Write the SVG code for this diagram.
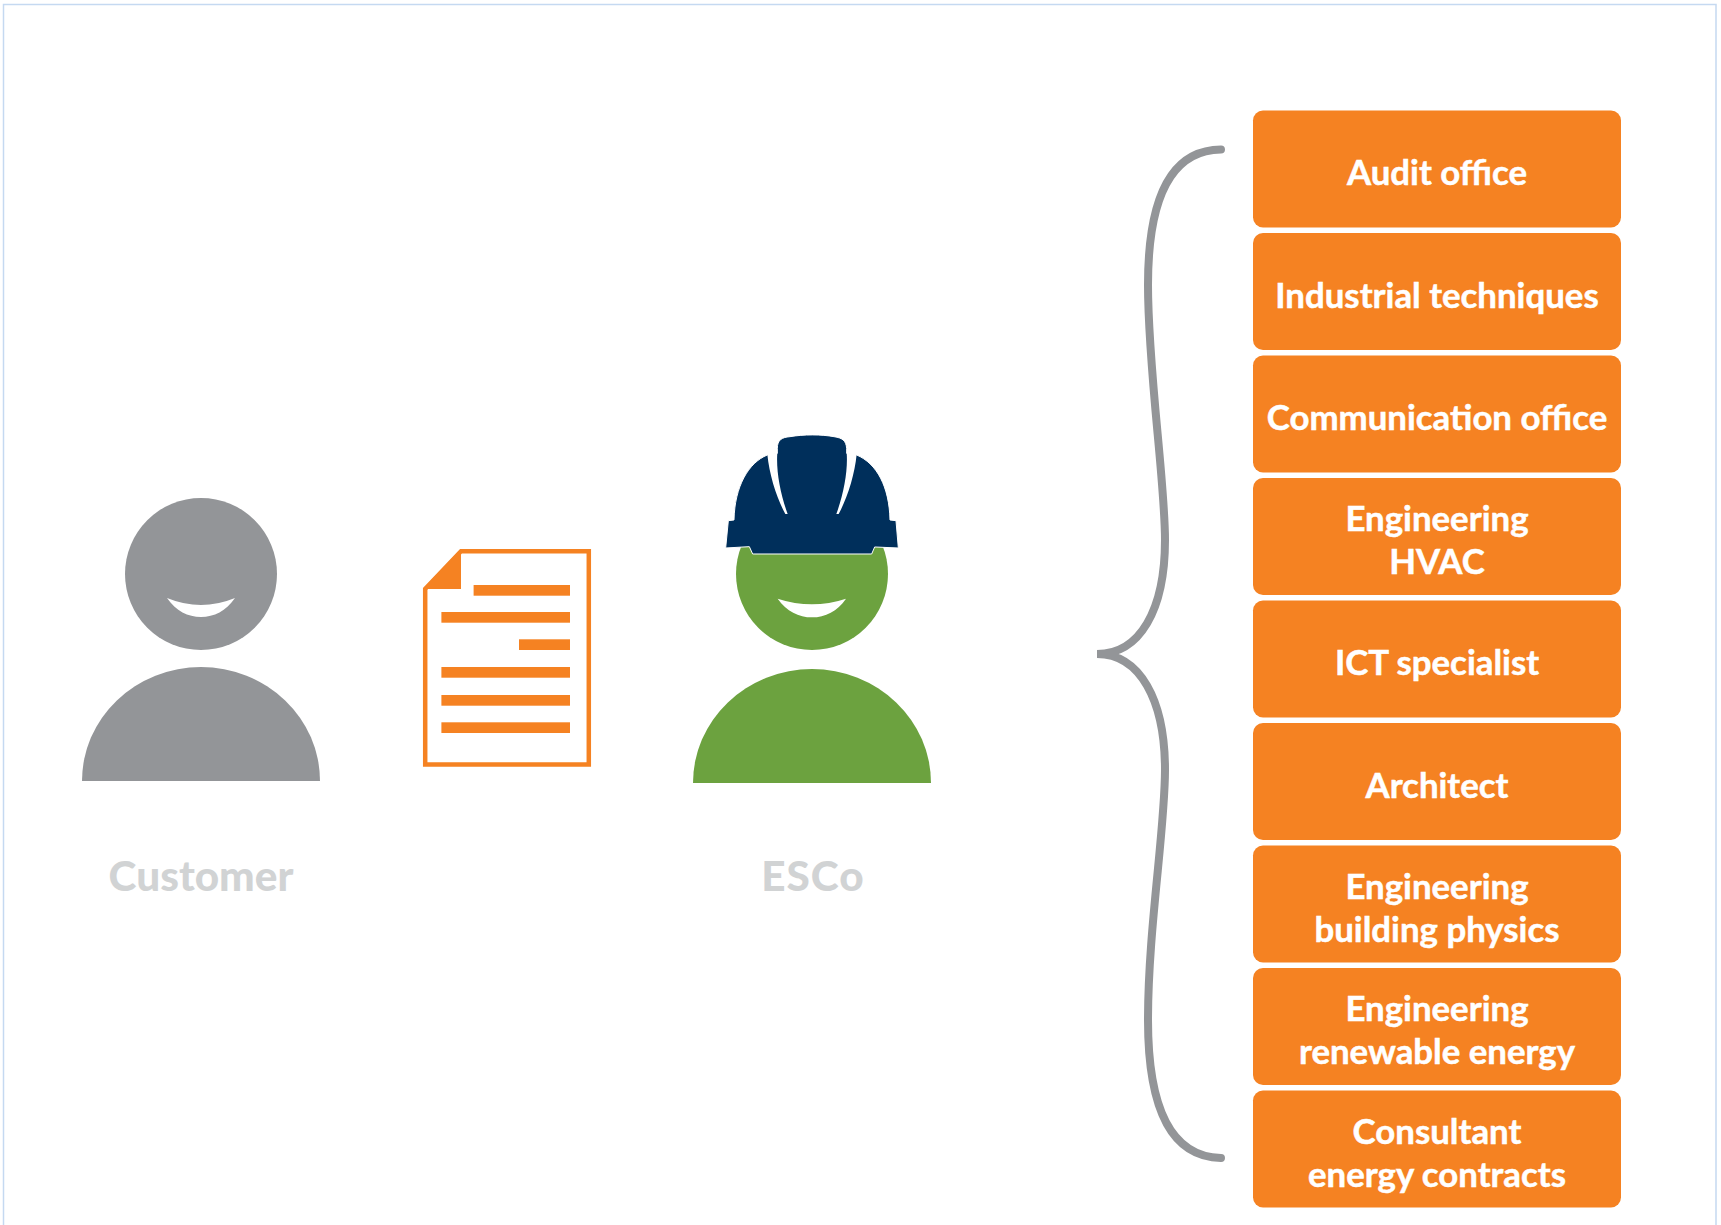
<svg xmlns="http://www.w3.org/2000/svg" width="1721" height="1225" viewBox="0 0 1721 1225">
<style>
.box{fill:#f58222}
.bt{font-family:"Lato","Liberation Sans",sans-serif;font-weight:700;font-size:34.8px;fill:#fff;stroke:#fff;stroke-width:.5px;text-anchor:middle}
.cap{font-family:"Lato","Liberation Sans",sans-serif;font-weight:900;font-size:42.3px;fill:#d1d3d4;text-anchor:middle}
.doc{fill:#f58222}
</style>
<rect width="1721" height="1225" fill="#fff"/>
<rect id="frame" x="3.5" y="4.5" width="1712.5" height="1240" fill="none" stroke="#c5d9f1" stroke-width="1.5"/>
<g id="customer">
<circle cx="201" cy="574" r="76" fill="#939598"/>
<path d="M82,781 A119,114 0 0 1 320,781 Z" fill="#939598"/>
<path d="M167,598 Q201,612 235,598 C226,611 214,617 201,617 C188,617 176,611 167,598 Z" fill="#fff"/>
<text class="cap" x="201" y="891">Customer</text>
</g>
<g id="document">
<path d="M461,551.2 H588.8 V764.5 H425.2 V589 Z" fill="#fff" stroke="#f58222" stroke-width="4.5"/>
<path class="doc" d="M461,549 V589 H423 Z"/>
<rect class="doc" x="473.6" y="585" width="96.4" height="10.7"/>
<rect class="doc" x="441.4" y="612" width="128.6" height="10.7"/>
<rect class="doc" x="519" y="639.3" width="51" height="10.7"/>
<rect class="doc" x="441.4" y="667" width="128.6" height="10.7"/>
<rect class="doc" x="441.4" y="695" width="128.6" height="10.7"/>
<rect class="doc" x="441.4" y="722.3" width="128.6" height="10.7"/>
</g>
<g id="esco">
<circle cx="812" cy="574" r="76" fill="#6ca23f"/>
<path d="M693,783 A119,114 0 0 1 931,783 Z" fill="#6ca23f"/>
<g transform="translate(680,420) scale(0.33333)">
<path d="M293,536 Q396,570 498,536 C472,574 436,592 396,592 C356,592 320,574 293,536 Z" fill="#fff"/>
<path d="M137,384 L145,302 L162,300 C164,200 205,128 262,105 L292,100 L292,85 C292,60 305,52 330,50 C370,43 425,43 462,50 C488,54 498,62 500,85 L500,100 L530,105 C590,130 628,200 630,300 L648,302 L655,384 L584,381 L575,402 L218,402 L208,380 Z" fill="#002f5b" stroke="#fff" stroke-width="3"/>
<path d="M262,103 C268,165 290,235 316,282 L323,282 C300,220 288,150 292,98 Z" fill="#fff"/>
<path d="M530,103 C524,165 502,235 476,282 L469,282 C492,220 504,150 500,98 Z" fill="#fff"/>
</g>
<text class="cap" x="813" y="891" letter-spacing="1">ESCo</text>
</g>
<g id="connectors">
<path d="M1221,149.5 C1175,150 1148,190 1148,285 C1148,370 1165,480 1165,540 C1165,610 1140,654 1097,654 C1140,654 1165,700 1165,770 C1165,830 1148,930 1148,1020 C1148,1115 1175,1157 1221,1158" fill="none" stroke="#939598" stroke-width="8" stroke-linecap="round" stroke-linejoin="miter"/>
</g>
<g id="box1"><rect class="box" x="1253" y="110.5" width="368" height="117" rx="10"/><text class="bt" x="1437" y="185">Audit office</text></g>
<g id="box2"><rect class="box" x="1253" y="233" width="368" height="117" rx="10"/><text class="bt" x="1437" y="307.5">Industrial techniques</text></g>
<g id="box3"><rect class="box" x="1253" y="355.5" width="368" height="117" rx="10"/><text class="bt" x="1437" y="430">Communication office</text></g>
<g id="box4"><rect class="box" x="1253" y="478" width="368" height="117" rx="10"/><text class="bt" x="1437" y="531">Engineering</text><text class="bt" x="1437" y="574">HVAC</text></g>
<g id="box5"><rect class="box" x="1253" y="600.5" width="368" height="117" rx="10"/><text class="bt" x="1437" y="675">ICT specialist</text></g>
<g id="box6"><rect class="box" x="1253" y="723" width="368" height="117" rx="10"/><text class="bt" x="1437" y="797.5">Architect</text></g>
<g id="box7"><rect class="box" x="1253" y="845.5" width="368" height="117" rx="10"/><text class="bt" x="1437" y="898.5">Engineering</text><text class="bt" x="1437" y="941.5">building physics</text></g>
<g id="box8"><rect class="box" x="1253" y="968" width="368" height="117" rx="10"/><text class="bt" x="1437" y="1021">Engineering</text><text class="bt" x="1437" y="1064">renewable energy</text></g>
<g id="box9"><rect class="box" x="1253" y="1090.5" width="368" height="117" rx="10"/><text class="bt" x="1437" y="1143.5">Consultant</text><text class="bt" x="1437" y="1186.5">energy contracts</text></g>
</svg>
